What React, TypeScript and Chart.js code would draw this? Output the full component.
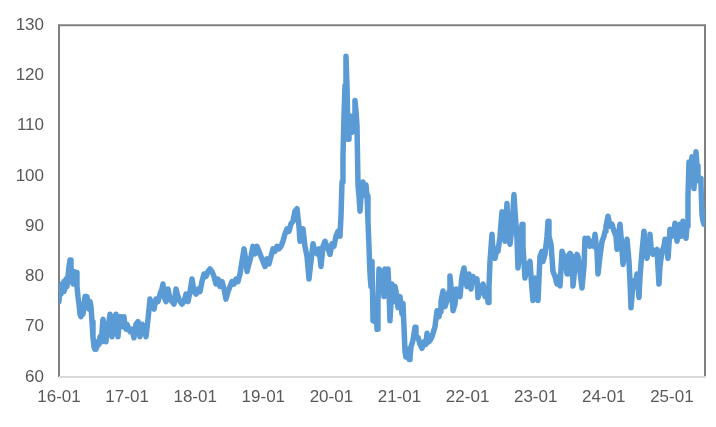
import { useEffect, useRef } from "react";
import { Chart, registerables } from "chart.js";

Chart.register(...registerables);

// Time in years since 2016-01-01 (daily index sampled), and index values
const yearsSince2016 = [
  // 2016
  0, 0.015, 0.029, 0.044, 0.059, 0.073, 0.088, 0.103, 0.117, 0.132,
  0.147, 0.162, 0.176, 0.191, 0.206, 0.22, 0.235, 0.25, 0.264, 0.279,
  0.294, 0.308, 0.323, 0.338, 0.352, 0.367, 0.382, 0.396, 0.411, 0.426,
  0.441, 0.455, 0.47, 0.485, 0.499, 0.514, 0.529, 0.543, 0.558, 0.573,
  0.587, 0.602, 0.617, 0.631, 0.646, 0.661, 0.675, 0.69, 0.705, 0.72,
  0.734, 0.749, 0.764, 0.778, 0.793, 0.808, 0.822, 0.837, 0.852, 0.866,
  0.881, 0.896, 0.91, 0.925, 0.94, 0.954, 0.969, 0.984, 0.998,
  // 2017
  1.013, 1.043, 1.072, 1.101, 1.131, 1.16, 1.189, 1.219, 1.248, 1.278,
  1.307, 1.336, 1.366, 1.395, 1.424, 1.454, 1.483, 1.512, 1.527, 1.542,
  1.571, 1.601, 1.63, 1.659, 1.689, 1.718, 1.747, 1.777, 1.806, 1.836,
  1.865, 1.894, 1.924, 1.953, 1.982,
  // 2018
  2.012, 2.041, 2.07, 2.1, 2.129, 2.159, 2.188, 2.217, 2.247, 2.276,
  2.305, 2.335, 2.364, 2.394, 2.423, 2.452, 2.482, 2.511, 2.54, 2.57,
  2.599, 2.628, 2.658, 2.687, 2.717, 2.746, 2.761, 2.79, 2.819, 2.849,
  2.878, 2.907, 2.937, 2.966,
  // 2019
  2.996, 3.025, 3.054, 3.084, 3.113, 3.142, 3.172, 3.201, 3.231, 3.26,
  3.289, 3.319, 3.348, 3.377, 3.407, 3.436, 3.465, 3.495, 3.524, 3.539,
  3.568, 3.583, 3.612, 3.642, 3.671, 3.7, 3.73, 3.759, 3.789, 3.818,
  3.847, 3.877, 3.906, 3.935, 3.965, 3.979,
  // 2020
  4.009, 4.038, 4.067, 4.097, 4.126, 4.141, 4.156, 4.17, 4.185, 4.2,
  4.214, 4.229, 4.244, 4.258, 4.273, 4.302, 4.317, 4.332, 4.346, 4.361,
  4.376, 4.391, 4.405, 4.42, 4.435, 4.449, 4.464, 4.493, 4.508, 4.523,
  4.537, 4.552, 4.567, 4.581, 4.596, 4.611, 4.625, 4.64, 4.655, 4.67,
  4.684, 4.699, 4.714, 4.728, 4.743, 4.772, 4.787, 4.802, 4.831, 4.846,
  4.86, 4.89, 4.919, 4.934, 4.949, 4.978,
  // 2021
  5.007, 5.037, 5.051, 5.066, 5.081, 5.095, 5.125, 5.14, 5.154, 5.169,
  5.198, 5.228, 5.242, 5.272, 5.301, 5.33, 5.36, 5.389, 5.404, 5.433,
  5.448, 5.477, 5.492, 5.521, 5.551, 5.58, 5.595, 5.609, 5.639, 5.668,
  5.697, 5.727, 5.741, 5.756, 5.771, 5.786, 5.815, 5.83, 5.859, 5.888,
  5.918, 5.947, 5.962,
  // 2022
  5.991, 6.02, 6.05, 6.079, 6.109, 6.138, 6.153, 6.182, 6.226, 6.256,
  6.285, 6.3, 6.314, 6.329, 6.358, 6.373, 6.402, 6.432, 6.446, 6.476,
  6.505, 6.52, 6.549, 6.578, 6.593, 6.623, 6.652, 6.681, 6.696, 6.725,
  6.74, 6.769, 6.799, 6.813, 6.843, 6.872, 6.916, 6.931, 6.96, 6.99,
  // 2023
  7.019, 7.034, 7.063, 7.092, 7.107, 7.136, 7.166, 7.181, 7.195, 7.225,
  7.254, 7.283, 7.313, 7.342, 7.357, 7.386, 7.415, 7.43, 7.46, 7.474,
  7.504, 7.533, 7.548, 7.577, 7.606, 7.621, 7.65, 7.68, 7.709, 7.724,
  7.753, 7.768, 7.797, 7.827, 7.856, 7.871, 7.9, 7.915, 7.944, 7.974,
  // 2024
  8.003, 8.018, 8.032, 8.062, 8.091, 8.12, 8.15, 8.179, 8.194, 8.223,
  8.238, 8.253, 8.282, 8.311, 8.341, 8.37, 8.385, 8.399, 8.414, 8.429,
  8.458, 8.487, 8.502, 8.517, 8.532, 8.561, 8.59, 8.605, 8.634, 8.664,
  8.678, 8.693, 8.722, 8.752, 8.781, 8.81, 8.825, 8.854, 8.884, 8.899,
  8.928, 8.943, 8.972,
  // 2025
  9.001, 9.031, 9.046, 9.075, 9.104, 9.119, 9.134, 9.163, 9.192, 9.207,
  9.222, 9.236, 9.251, 9.266, 9.295, 9.31, 9.324, 9.339, 9.354, 9.369,
  9.383, 9.398, 9.413, 9.427, 9.442, 9.457, 9.471, 9.486,
];

const values = [
  // 2016
  75, 78, 76.5, 78.5, 77, 79, 77.5, 79.5, 78, 80,
  82, 83.3, 82, 79, 78.5, 81, 79.5, 80.8, 78, 76,
  74.5, 72.5, 72, 73.5, 72.5, 74, 76, 75, 76, 74,
  73.5, 75, 74, 71, 68, 66, 65.5, 67, 66, 67,
  66.5, 68, 67, 69, 71.5, 70, 68, 67, 70, 68.5,
  71, 72.5, 70, 68, 70, 72, 71, 72.5, 69.5, 68,
  70.5, 72, 71, 70, 71.5, 72, 70, 69.5, 70.5,
  // 2017
  70, 69, 69.5, 67.8, 70.5, 71, 68, 70.5, 70, 68,
  71.5, 75.5, 74, 73.5, 75.5, 75, 76.5, 77.5, 78.5, 76,
  75, 77.5, 75.5, 75, 74.5, 77.5, 76, 75, 74.5, 75,
  76.5, 75, 77, 79.5, 77,
  // 2018
  76.5, 77.5, 77, 79, 80.5, 80, 81, 81.5, 81, 80,
  78.5, 79.5, 78, 79, 77.5, 75.5, 77, 78, 79, 78.5,
  79.5, 79, 80.5, 83, 85.5, 83, 81, 82.5, 84, 86,
  84.5, 86, 85, 84,
  // 2019
  83, 82, 83.5, 82.5, 84, 85.5, 85, 86, 85.5, 86,
  87, 88.5, 89.5, 89, 90.5, 91, 93, 93.5, 90, 87,
  88, 89.5, 86, 84, 79.5, 83, 86.5, 85, 84.5, 85.5,
  82, 86, 87, 86, 85, 84.4,
  // 2020
  86.5, 86, 88, 89, 88, 92, 98.8, 104, 112, 118,
  123.8, 118, 107.3, 112, 110, 108.7, 112, 111, 115, 113,
  110, 98, 96, 93, 96, 97, 98.8, 97, 98.2, 96,
  91, 86, 80.5, 78, 83, 71.2, 72, 71, 74, 69.5,
  75, 81.5, 80, 79, 81, 76, 81.5, 78, 81.5, 77,
  71.2, 78.5, 75, 78, 77, 73.8,
  // 2021
  76, 72.5, 74.6, 70, 65, 64, 65.5, 63.5, 64, 66,
  67.3, 69.9, 68, 67.9, 66.5, 65.7, 67, 66.5, 68.7, 67,
  67.3, 68, 68.7, 70, 73.2, 72, 73, 75, 77.1, 74,
  75.2, 77, 80.1, 78, 76, 73.2, 74.5, 77.5, 77, 76,
  80, 81.7, 80,
  // 2022
  78, 80.5, 77.5, 80, 79, 79.5, 75.8, 77, 78.5, 76,
  77, 74.8, 78, 83, 88.4, 85, 83.6, 85.6, 85, 88,
  92.9, 90, 87, 94.5, 90, 86.4, 90, 96.3, 93, 87.6,
  81.7, 86, 90.4, 86, 79.7, 82, 83, 80, 75.2, 79.7,
  // 2023
  77, 75.2, 84, 85, 83, 84.4, 88, 91, 88, 86.4,
  81, 80, 78.5, 80, 78.1, 85, 84, 83.6, 80.5, 84,
  84.6, 84, 78.1, 82, 84.4, 84, 81, 77.7, 82, 87.6,
  86.5, 87.6, 86, 87, 86, 88.4, 85, 80.5, 84, 87,
  // 2024
  88, 89, 90, 92, 90, 90.4, 89, 88, 85.4, 89,
  90.4, 88, 82.4, 85, 87.4, 83, 79, 73.8, 76, 79.1,
  78, 80.5, 78, 75.8, 80, 85, 89, 86, 83.6, 86,
  88.4, 86, 84.4, 85, 85.4, 78.5, 82, 85, 86, 87.4,
  85, 83.6, 89.4,
  // 2025
  88, 89, 90.6, 87, 89, 90.4, 88, 91, 89, 87.6,
  90, 96, 102.8, 101, 103.8, 100, 97.5, 101, 104.8, 102,
  100.2, 99, 99.5, 98.2, 92.3, 91, 90.4, 93,
];

const xTickLabels = ["16-01", "17-01", "18-01", "19-01", "20-01", "21-01", "22-01", "23-01", "24-01", "25-01"];
const yMin = 60;
const yMax = 130;
const yStep = 10;
const xEnd = 9.486;

const framePlugin = {
  id: "frame",
  beforeDatasetsDraw(chart: any) {
    const { ctx, chartArea } = chart;
    const { left, top, right, bottom } = chartArea;
    ctx.save();
    ctx.strokeStyle = "#808080";
    ctx.lineWidth = 2;
    ctx.beginPath();
    ctx.moveTo(left, bottom);
    ctx.lineTo(left, top);
    ctx.lineTo(right, top);
    ctx.lineTo(right, bottom);
    ctx.stroke();
    ctx.strokeStyle = "#d9d9d9";
    ctx.beginPath();
    ctx.moveTo(left, bottom);
    ctx.lineTo(right + 1, bottom);
    ctx.stroke();
    ctx.restore();
  },
};

const labelFont = { family: "'Liberation Sans', Arial, sans-serif", size: 17 };

export default function App() {
  const ref = useRef<HTMLCanvasElement | null>(null);

  useEffect(() => {
    document.body.style.margin = "0";
    if (!ref.current) return;
    const n = Math.min(yearsSince2016.length, values.length);
    const points = [];
    for (let i = 0; i < n; i++) points.push({ x: yearsSince2016[i], y: values[i] });

    const chart = new Chart(ref.current, {
      type: "line",
      data: {
        datasets: [
          {
            data: points,
            borderColor: "#5b9bd5",
            borderWidth: 5.5,
            pointRadius: 0,
            tension: 0,
            borderJoinStyle: "round",
            borderCapStyle: "round",
            fill: false,
          },
        ],
      },
      options: {
        animation: false,
        responsive: false,
        maintainAspectRatio: false,
        layout: { padding: { top: 22, right: 11, left: 0, bottom: 0 } },
        plugins: { legend: { display: false }, tooltip: { enabled: false } },
        scales: {
          x: {
            type: "linear",
            min: 0,
            max: xEnd,
            grid: { display: false, drawTicks: false },
            border: { display: false },
            afterFit: (s: any) => {
              s.height = 50;
            },
            ticks: {
              stepSize: 1,
              includeBounds: false,
              autoSkip: false,
              maxRotation: 0,
              padding: 10,
              color: "#595959",
              font: labelFont,
              callback: (v: any) => (Number.isInteger(v) && xTickLabels[v] ? xTickLabels[v] : ""),
            },
          },
          y: {
            min: yMin,
            max: yMax,
            grid: { display: false, drawTicks: false },
            border: { display: false },
            afterFit: (s: any) => {
              s.width = 59;
            },
            ticks: {
              stepSize: yStep,
              padding: 15,
              color: "#595959",
              font: labelFont,
            },
          },
        },
      },
      plugins: [framePlugin],
    });
    return () => chart.destroy();
  }, []);

  return <canvas ref={ref} width={716} height={427} style={{ display: "block" }} />;
}
